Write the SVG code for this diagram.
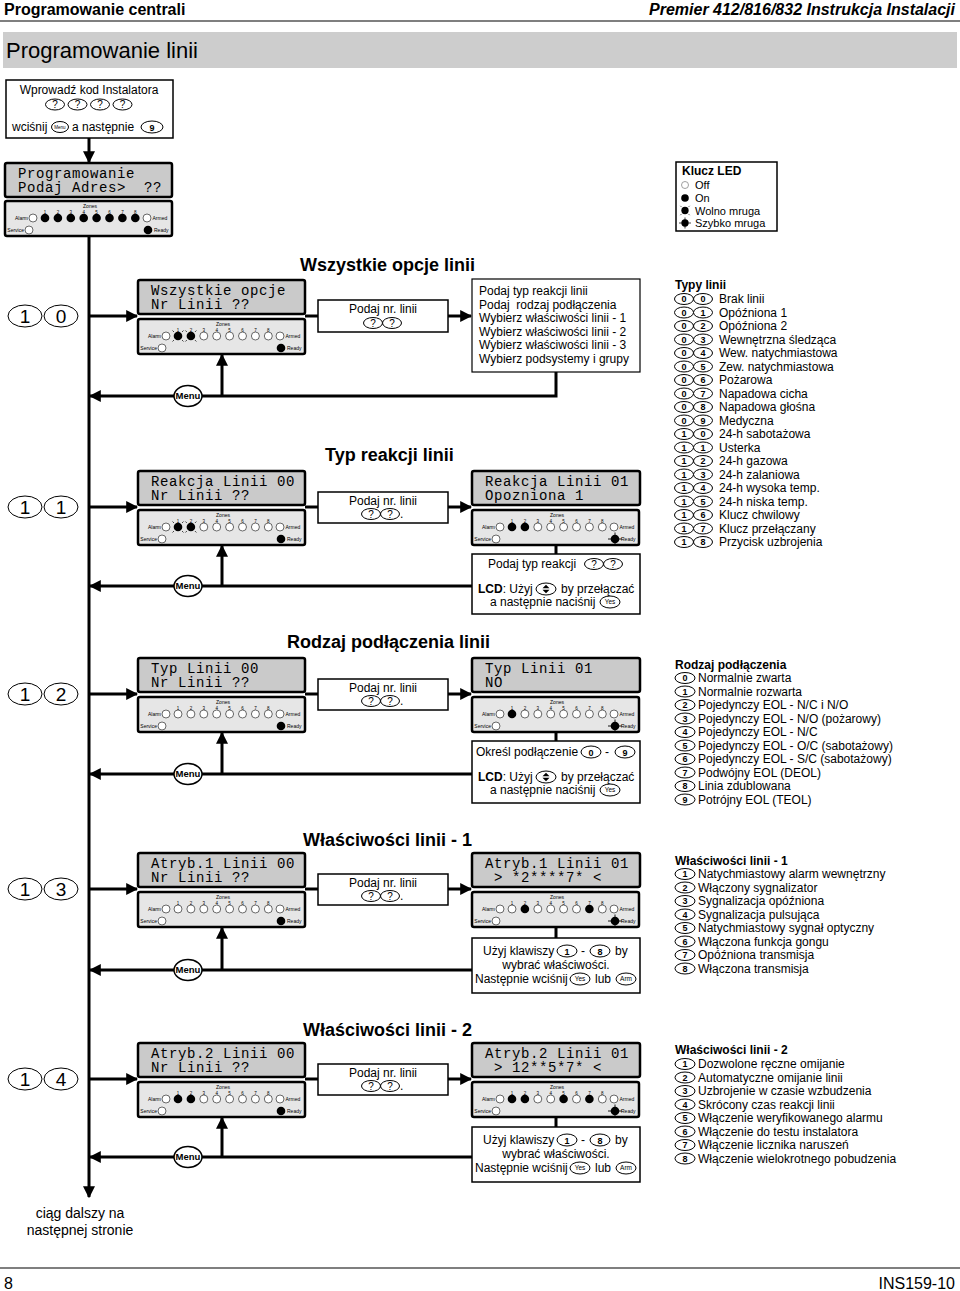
<svg xmlns="http://www.w3.org/2000/svg" xmlns:xlink="http://www.w3.org/1999/xlink" width="960" height="1291" viewBox="0 0 960 1291">
<style>
text{font-family:"Liberation Sans",Arial,sans-serif;fill:#000}
.t{font-size:12px}
.tb{font-size:12px;font-weight:bold}
.lg{font-size:11px}
.hb{font-size:16px;font-weight:bold}
.h2{font-size:18px;font-weight:bold}
.lcdr{fill:#cacaca;stroke:#000;stroke-width:2.5}
.lp{fill:#e6e6e6;stroke:#000;stroke-width:2.5}
.lt{font-family:"Liberation Mono","DejaVu Sans Mono",monospace;font-size:14px;letter-spacing:0.6px;white-space:pre}
.box{fill:#fff;stroke:#000;stroke-width:1.5}
.ke{fill:#fff;stroke:#000;stroke-width:1}
.kt{font-size:9px;font-weight:bold;text-anchor:middle}
.kq{font-size:10px;text-anchor:middle}
.ky{font-size:6.5px;text-anchor:middle}
.big{fill:#fff;stroke:#000;stroke-width:1.2}
.bt{font-size:19px;text-anchor:middle}
.mt{font-size:9.5px;font-weight:bold;text-anchor:middle}
.tiny{font-size:5px}
.num{font-size:4.5px;text-anchor:middle}
.ln{stroke:#000;stroke-width:3;fill:none}
.mid{text-anchor:middle}
</style>
<defs>
<marker id="ah" viewBox="0 0 10 10" refX="9" refY="5" markerWidth="12" markerHeight="12" markerUnits="userSpaceOnUse" orient="auto">
<path d="M0,0L10,5L0,10z" fill="#000"/>
</marker>
<circle id="off" r="4" fill="#fff" stroke="#444" stroke-width="0.8"/>
<circle id="on" r="4.3" fill="#000"/>
<g id="slow"><circle r="4.3" fill="#000"/><path d="M-5.5,-5.5l1.5,1.5M5.5,-5.5l-1.5,1.5M-5.5,5.5l1.5,-1.5M5.5,5.5l-1.5,-1.5" stroke="#000" stroke-width="0.7"/></g>
<g id="fast"><circle r="4.3" fill="#000"/><path d="M-7,0H7M0,-6.5V6.5" stroke="#000" stroke-width="0.9"/></g>
<g id="ledbase">
<rect class="lp" x="0" y="0" width="167" height="35" rx="2"/>
<text class="tiny mid" x="85" y="6.5">Zones</text>
<text class="num" x="40" y="12.8">1</text><text class="num" x="52.9" y="12.8">2</text><text class="num" x="65.8" y="12.8">3</text><text class="num" x="78.7" y="12.8">4</text><text class="num" x="91.6" y="12.8">5</text><text class="num" x="104.5" y="12.8">6</text><text class="num" x="117.4" y="12.8">7</text><text class="num" x="130.3" y="12.8">8</text>
<text class="tiny" x="23" y="19" text-anchor="end">Alarm</text>
<use href="#off" x="28" y="17"/>
<use href="#off" x="142" y="17"/>
<text class="tiny" x="147.5" y="19">Armed</text>
<text class="tiny" x="19" y="31" text-anchor="end">Service</text>
<use href="#off" x="24" y="29"/>
<text class="tiny" x="149" y="31">Ready</text>
</g>
<g id="menu"><ellipse rx="14" ry="10.5" fill="#fff" stroke="#000" stroke-width="1.5"/><text class="mt" y="3.3">Menu</text></g>
<g id="q"><ellipse class="ke" rx="9.5" ry="5.5"/><text class="kq" y="3.5">?</text></g>
<g id="yes"><ellipse class="ke" rx="10" ry="6"/><text class="ky" y="2.3">Yes</text></g>
<g id="arm"><ellipse class="ke" rx="10" ry="6"/><text class="ky" y="2.3">Arm</text></g>
<g id="updn"><ellipse class="ke" rx="10" ry="6"/><path d="M-3.5,-0.8L0,-4.3L3.5,-0.8zM-3.5,0.8L0,4.3L3.5,0.8z" fill="#000"/></g>
</defs>

<!-- header -->
<g id="header">
<text class="hb" x="4" y="15">Programowanie centrali</text>
<text class="hb" x="955" y="15" text-anchor="end" font-style="italic">Premier 412/816/832 Instrukcja Instalacji</text>
<line x1="0" y1="21" x2="960" y2="21" stroke="#000" stroke-width="1.2"/>
<rect x="3" y="32" width="954" height="36" fill="#cdcdcd"/>
<text x="6" y="58" font-size="22">Programowanie linii</text>
</g>

<!-- connectors -->
<g id="connectors">
<line class="ln" x1="89" y1="138" x2="89" y2="162" marker-end="url(#ah)"/>
<line class="ln" x1="89" y1="236" x2="89" y2="1197" marker-end="url(#ah)"/>
<line class="ln" x1="89" y1="316" x2="137" y2="316" marker-end="url(#ah)"/>
<line class="ln" x1="89" y1="507" x2="137" y2="507" marker-end="url(#ah)"/>
<line class="ln" x1="89" y1="694" x2="137" y2="694" marker-end="url(#ah)"/>
<line class="ln" x1="89" y1="889" x2="137" y2="889" marker-end="url(#ah)"/>
<line class="ln" x1="89" y1="1079" x2="137" y2="1079" marker-end="url(#ah)"/>
<line class="ln" x1="305" y1="316" x2="318" y2="316"/>
<line class="ln" x1="305" y1="507" x2="318" y2="507"/>
<line class="ln" x1="305" y1="694" x2="318" y2="694"/>
<line class="ln" x1="305" y1="889" x2="318" y2="889"/>
<line class="ln" x1="305" y1="1079" x2="318" y2="1079"/>
<line class="ln" x1="448" y1="316" x2="471" y2="316" marker-end="url(#ah)"/>
<line class="ln" x1="448" y1="507" x2="471" y2="507" marker-end="url(#ah)"/>
<line class="ln" x1="448" y1="694" x2="471" y2="694" marker-end="url(#ah)"/>
<line class="ln" x1="448" y1="889" x2="471" y2="889" marker-end="url(#ah)"/>
<line class="ln" x1="448" y1="1079" x2="471" y2="1079" marker-end="url(#ah)"/>
<line class="ln" x1="556" y1="545" x2="556" y2="554"/>
<line class="ln" x1="556" y1="732" x2="556" y2="741"/>
<line class="ln" x1="556" y1="927" x2="556" y2="938"/>
<line class="ln" x1="556" y1="1117" x2="556" y2="1127"/>
<polyline class="ln" points="556,372 556,396 90,396" marker-end="url(#ah)"/>
<line class="ln" x1="472" y1="586" x2="90" y2="586" marker-end="url(#ah)"/>
<line class="ln" x1="472" y1="774" x2="90" y2="774" marker-end="url(#ah)"/>
<line class="ln" x1="472" y1="970" x2="90" y2="970" marker-end="url(#ah)"/>
<line class="ln" x1="472" y1="1157" x2="90" y2="1157" marker-end="url(#ah)"/>
<line class="ln" x1="222" y1="396" x2="222" y2="355" marker-end="url(#ah)"/>
<line class="ln" x1="222" y1="586" x2="222" y2="546" marker-end="url(#ah)"/>
<line class="ln" x1="222" y1="774" x2="222" y2="733" marker-end="url(#ah)"/>
<line class="ln" x1="222" y1="970" x2="222" y2="928" marker-end="url(#ah)"/>
<line class="ln" x1="222" y1="1157" x2="222" y2="1118" marker-end="url(#ah)"/>
<use href="#menu" x="188" y="396"/>
<use href="#menu" x="188" y="586"/>
<use href="#menu" x="188" y="774"/>
<use href="#menu" x="188" y="970"/>
<use href="#menu" x="188" y="1157"/>
</g>

<!-- start box -->
<g id="start">
<rect class="box" x="6" y="80" width="167" height="58"/>
<text class="t mid" x="89" y="94">Wprowadź kod Instalatora</text>
<use href="#q" x="55" y="104.5"/><use href="#q" x="77.5" y="104.5"/><use href="#q" x="100" y="104.5"/><use href="#q" x="122.5" y="104.5"/>
<text class="t" x="12" y="131">wciśnij</text>
<ellipse class="ke" cx="60" cy="127" rx="8.5" ry="5.5"/><text x="60" y="129" font-size="4.5" text-anchor="middle">Menu</text>
<text class="t" x="72" y="131">a następnie</text>
<ellipse class="ke" cx="152" cy="127" rx="11" ry="6"/><text class="kt" x="152" y="130.5">9</text>
</g>

<!-- programming LCD -->
<g id="lcd0">
<rect class="lcdr" x="5" y="163" width="167" height="34" rx="2"/>
<text class="lt" x="18" y="177.5">Programowanie</text>
<text class="lt" x="18" y="192">Podaj Adres&gt;  ??</text>
<g transform="translate(5,201)"><use href="#ledbase"/>
<use href="#on" x="40" y="17"/><use href="#on" x="52.9" y="17"/><use href="#on" x="65.8" y="17"/><use href="#on" x="78.7" y="17"/><use href="#on" x="91.6" y="17"/><use href="#on" x="104.5" y="17"/><use href="#on" x="117.4" y="17"/><use href="#on" x="130.3" y="17"/><use href="#on" x="143" y="29"/></g>
</g>

<!-- Klucz LED -->
<g id="legend">
<rect class="box" x="676" y="162" width="101" height="69" stroke-width="1.2"/>
<text class="tb" x="682" y="174.5">Klucz LED</text>
<circle cx="685" cy="185" r="3.5" fill="#fff" stroke="#888" stroke-width="0.8"/><text class="lg" x="695" y="189">Off</text>
<circle cx="685" cy="198" r="3.8" fill="#000"/><text class="lg" x="695" y="202">On</text>
<use href="#slow" transform="translate(685,210.5) scale(0.85)"/><text class="lg" x="695" y="214.5">Wolno mruga</text>
<use href="#fast" transform="translate(685,223) scale(0.85)"/><text class="lg" x="695" y="227">Szybko mruga</text>
</g>

<!-- row titles -->
<g id="titles">
<text class="h2" x="300" y="271">Wszystkie opcje linii</text>
<text class="h2" x="325" y="461">Typ reakcji linii</text>
<text class="h2" x="287" y="648">Rodzaj podłączenia linii</text>
<text class="h2" x="303" y="846">Właściwości linii - 1</text>
<text class="h2" x="303" y="1036">Właściwości linii - 2</text>
</g>

<!-- row labels -->
<g id="labels">
<g transform="translate(0,316)"><ellipse class="ke" cx="25" cy="0" rx="17" ry="11" stroke-width="1.3"/><text class="bt" x="25" y="7">1</text><ellipse class="ke" cx="61" cy="0" rx="17" ry="11" stroke-width="1.3"/><text class="bt" x="61" y="7">0</text></g>
<g transform="translate(0,507)"><ellipse class="ke" cx="25" cy="0" rx="17" ry="11" stroke-width="1.3"/><text class="bt" x="25" y="7">1</text><ellipse class="ke" cx="61" cy="0" rx="17" ry="11" stroke-width="1.3"/><text class="bt" x="61" y="7">1</text></g>
<g transform="translate(0,694)"><ellipse class="ke" cx="25" cy="0" rx="17" ry="11" stroke-width="1.3"/><text class="bt" x="25" y="7">1</text><ellipse class="ke" cx="61" cy="0" rx="17" ry="11" stroke-width="1.3"/><text class="bt" x="61" y="7">2</text></g>
<g transform="translate(0,889)"><ellipse class="ke" cx="25" cy="0" rx="17" ry="11" stroke-width="1.3"/><text class="bt" x="25" y="7">1</text><ellipse class="ke" cx="61" cy="0" rx="17" ry="11" stroke-width="1.3"/><text class="bt" x="61" y="7">3</text></g>
<g transform="translate(0,1079)"><ellipse class="ke" cx="25" cy="0" rx="17" ry="11" stroke-width="1.3"/><text class="bt" x="25" y="7">1</text><ellipse class="ke" cx="61" cy="0" rx="17" ry="11" stroke-width="1.3"/><text class="bt" x="61" y="7">4</text></g>
</g>

<!-- Row 10 -->
<g id="row10">
<rect class="lcdr" x="138" y="280" width="167" height="34" rx="2"/>
<text class="lt" x="151" y="294.5">Wszystkie opcje</text>
<text class="lt" x="151" y="309">Nr Linii ??</text>
<g transform="translate(138,319)"><use href="#ledbase"/>
<use href="#slow" x="40" y="17"/><use href="#slow" x="52.9" y="17"/><use href="#off" x="65.8" y="17"/><use href="#off" x="78.7" y="17"/><use href="#off" x="91.6" y="17"/><use href="#off" x="104.5" y="17"/><use href="#off" x="117.4" y="17"/><use href="#off" x="130.3" y="17"/><use href="#on" x="143" y="29"/></g>
<rect class="box" x="318" y="300" width="130" height="32"/>
<text class="t mid" x="383" y="313">Podaj nr. linii</text>
<use href="#q" x="373" y="323"/><use href="#q" x="392" y="323"/>
<rect class="big" x="472" y="279" width="168" height="93"/>
<text class="t" x="479" y="295">Podaj typ reakcji linii</text>
<text class="t" x="479" y="308.5" style="white-space:pre">Podaj  rodzaj podłączenia</text>
<text class="t" x="479" y="322">Wybierz właściwości linii - 1</text>
<text class="t" x="479" y="335.5">Wybierz właściwości linii - 2</text>
<text class="t" x="479" y="349">Wybierz właściwości linii - 3</text>
<text class="t" x="479" y="362.5">Wybierz podsystemy i grupy</text>
</g>

<!-- Row 11 -->
<g id="row11">
<rect class="lcdr" x="138" y="471" width="167" height="34" rx="2"/>
<text class="lt" x="151" y="485.5">Reakcja Linii 00</text>
<text class="lt" x="151" y="500">Nr Linii ??</text>
<g transform="translate(138,510)"><use href="#ledbase"/>
<use href="#slow" x="40" y="17"/><use href="#slow" x="52.9" y="17"/><use href="#off" x="65.8" y="17"/><use href="#off" x="78.7" y="17"/><use href="#off" x="91.6" y="17"/><use href="#off" x="104.5" y="17"/><use href="#off" x="117.4" y="17"/><use href="#off" x="130.3" y="17"/><use href="#on" x="143" y="29"/></g>
<rect class="box" x="318" y="492" width="130" height="31"/>
<text class="t mid" x="383" y="505">Podaj nr. linii</text>
<use href="#q" x="371" y="514"/><use href="#q" x="390" y="514"/><text class="t" x="400" y="518">.</text>
<rect class="lcdr" x="472" y="471" width="168" height="34" rx="2"/>
<text class="lt" x="485" y="485.5">Reakcja Linii 01</text>
<text class="lt" x="485" y="500">Opozniona 1</text>
<g transform="translate(472,510)"><use href="#ledbase"/>
<use href="#on" x="40" y="17"/><use href="#on" x="52.9" y="17"/><use href="#off" x="65.8" y="17"/><use href="#off" x="78.7" y="17"/><use href="#off" x="91.6" y="17"/><use href="#off" x="104.5" y="17"/><use href="#off" x="117.4" y="17"/><use href="#off" x="130.3" y="17"/><use href="#fast" x="143" y="29"/></g>
<rect class="box" x="472" y="554" width="168" height="60"/>
<text class="t" x="488" y="568">Podaj typ reakcji</text>
<use href="#q" x="594" y="564"/><use href="#q" x="613" y="564"/>
<text class="t" x="478" y="593"><tspan font-weight="bold">LCD</tspan>: Użyj</text>
<use href="#updn" x="546" y="589"/>
<text class="t" x="561" y="593">by przełączać</text>
<text class="t" x="490" y="606">a następnie naciśnij</text>
<use href="#yes" x="610" y="602"/>
</g>

<!-- Row 12 -->
<g id="row12">
<rect class="lcdr" x="138" y="658" width="167" height="34" rx="2"/>
<text class="lt" x="151" y="672.5">Typ Linii 00</text>
<text class="lt" x="151" y="687">Nr Linii ??</text>
<g transform="translate(138,697)"><use href="#ledbase"/>
<use href="#off" x="40" y="17"/><use href="#off" x="52.9" y="17"/><use href="#off" x="65.8" y="17"/><use href="#off" x="78.7" y="17"/><use href="#off" x="91.6" y="17"/><use href="#off" x="104.5" y="17"/><use href="#off" x="117.4" y="17"/><use href="#off" x="130.3" y="17"/><use href="#on" x="143" y="29"/></g>
<rect class="box" x="318" y="679" width="130" height="31"/>
<text class="t mid" x="383" y="692">Podaj nr. linii</text>
<use href="#q" x="371" y="701"/><use href="#q" x="390" y="701"/><text class="t" x="400" y="705">.</text>
<rect class="lcdr" x="472" y="658" width="168" height="34" rx="2"/>
<text class="lt" x="485" y="672.5">Typ Linii 01</text>
<text class="lt" x="485" y="687">NO</text>
<g transform="translate(472,697)"><use href="#ledbase"/>
<use href="#on" x="40" y="17"/><use href="#off" x="52.9" y="17"/><use href="#off" x="65.8" y="17"/><use href="#off" x="78.7" y="17"/><use href="#off" x="91.6" y="17"/><use href="#off" x="104.5" y="17"/><use href="#off" x="117.4" y="17"/><use href="#off" x="130.3" y="17"/><use href="#fast" x="143" y="29"/></g>
<rect class="box" x="472" y="741" width="168" height="62"/>
<text class="t" x="476" y="756">Określ podłączenie</text>
<ellipse class="ke" cx="591" cy="752" rx="10" ry="6"/><text class="kt" x="591" y="755.5">0</text>
<text class="t" x="605" y="756">-</text>
<ellipse class="ke" cx="625" cy="752" rx="10" ry="6"/><text class="kt" x="625" y="755.5">9</text>
<text class="t" x="478" y="781"><tspan font-weight="bold">LCD</tspan>: Użyj</text>
<use href="#updn" x="546" y="777"/>
<text class="t" x="561" y="781">by przełączać</text>
<text class="t" x="490" y="794">a następnie naciśnij</text>
<use href="#yes" x="610" y="790"/>
</g>

<!-- Row 13 -->
<g id="row13">
<rect class="lcdr" x="138" y="853" width="167" height="34" rx="2"/>
<text class="lt" x="151" y="867.5">Atryb.1 Linii 00</text>
<text class="lt" x="151" y="882">Nr Linii ??</text>
<g transform="translate(138,892)"><use href="#ledbase"/>
<use href="#off" x="40" y="17"/><use href="#off" x="52.9" y="17"/><use href="#off" x="65.8" y="17"/><use href="#off" x="78.7" y="17"/><use href="#off" x="91.6" y="17"/><use href="#off" x="104.5" y="17"/><use href="#off" x="117.4" y="17"/><use href="#off" x="130.3" y="17"/><use href="#on" x="143" y="29"/></g>
<rect class="box" x="318" y="874" width="130" height="31"/>
<text class="t mid" x="383" y="887">Podaj nr. linii</text>
<use href="#q" x="371" y="896"/><use href="#q" x="390" y="896"/><text class="t" x="400" y="900">.</text>
<rect class="lcdr" x="472" y="853" width="168" height="34" rx="2"/>
<text class="lt" x="485" y="867.5">Atryb.1 Linii 01</text>
<text class="lt" x="485" y="882"> &gt; *2****7* &lt;</text>
<g transform="translate(472,892)"><use href="#ledbase"/>
<use href="#off" x="40" y="17"/><use href="#on" x="52.9" y="17"/><use href="#off" x="65.8" y="17"/><use href="#off" x="78.7" y="17"/><use href="#off" x="91.6" y="17"/><use href="#off" x="104.5" y="17"/><use href="#on" x="117.4" y="17"/><use href="#off" x="130.3" y="17"/><use href="#fast" x="143" y="29"/></g>
<rect class="box" x="472" y="938" width="168" height="55"/>
<text class="t" x="483" y="955">Użyj klawiszy</text>
<ellipse class="ke" cx="567" cy="951" rx="10" ry="6"/><text class="kt" x="567" y="954.5">1</text>
<text class="t" x="581" y="955">-</text>
<ellipse class="ke" cx="600" cy="951" rx="10" ry="6"/><text class="kt" x="600" y="954.5">8</text>
<text class="t" x="615" y="955">by</text>
<text class="t mid" x="556" y="969">wybrać właściwości.</text>
<text class="t" x="475" y="983">Następnie wciśnij</text>
<use href="#yes" x="580" y="979"/>
<text class="t" x="595" y="983">lub</text>
<use href="#arm" x="626" y="979"/>
</g>

<!-- Row 14 -->
<g id="row14">
<rect class="lcdr" x="138" y="1043" width="167" height="34" rx="2"/>
<text class="lt" x="151" y="1057.5">Atryb.2 Linii 00</text>
<text class="lt" x="151" y="1072">Nr Linii ??</text>
<g transform="translate(138,1082)"><use href="#ledbase"/>
<use href="#on" x="40" y="17"/><use href="#on" x="52.9" y="17"/><use href="#off" x="65.8" y="17"/><use href="#off" x="78.7" y="17"/><use href="#off" x="91.6" y="17"/><use href="#off" x="104.5" y="17"/><use href="#off" x="117.4" y="17"/><use href="#off" x="130.3" y="17"/><use href="#on" x="143" y="29"/></g>
<rect class="box" x="318" y="1064" width="130" height="31"/>
<text class="t mid" x="383" y="1077">Podaj nr. linii</text>
<use href="#q" x="371" y="1086"/><use href="#q" x="390" y="1086"/><text class="t" x="400" y="1090">.</text>
<rect class="lcdr" x="472" y="1043" width="168" height="34" rx="2"/>
<text class="lt" x="485" y="1057.5">Atryb.2 Linii 01</text>
<text class="lt" x="485" y="1072"> &gt; 12**5*7* &lt;</text>
<g transform="translate(472,1082)"><use href="#ledbase"/>
<use href="#on" x="40" y="17"/><use href="#on" x="52.9" y="17"/><use href="#off" x="65.8" y="17"/><use href="#off" x="78.7" y="17"/><use href="#on" x="91.6" y="17"/><use href="#off" x="104.5" y="17"/><use href="#on" x="117.4" y="17"/><use href="#off" x="130.3" y="17"/><use href="#fast" x="143" y="29"/></g>
<rect class="box" x="472" y="1127" width="168" height="55"/>
<text class="t" x="483" y="1144">Użyj klawiszy</text>
<ellipse class="ke" cx="567" cy="1140" rx="10" ry="6"/><text class="kt" x="567" y="1143.5">1</text>
<text class="t" x="581" y="1144">-</text>
<ellipse class="ke" cx="600" cy="1140" rx="10" ry="6"/><text class="kt" x="600" y="1143.5">8</text>
<text class="t" x="615" y="1144">by</text>
<text class="t mid" x="556" y="1158">wybrać właściwości.</text>
<text class="t" x="475" y="1172">Następnie wciśnij</text>
<use href="#yes" x="580" y="1168"/>
<text class="t" x="595" y="1172">lub</text>
<use href="#arm" x="626" y="1168"/>
</g>

<!-- Typy linii -->
<g id="typy">
<text class="tb" x="675" y="289">Typy linii</text>
<g transform="translate(0,303)"><ellipse class="ke" cx="684" cy="-4" rx="9.5" ry="5.5"/><text class="kt" x="684" y="-0.8">0</text><ellipse class="ke" cx="703" cy="-4" rx="9.5" ry="5.5"/><text class="kt" x="703" y="-0.8">0</text><text class="t" x="719" y="0">Brak linii</text></g>
<g transform="translate(0,316.5)"><ellipse class="ke" cx="684" cy="-4" rx="9.5" ry="5.5"/><text class="kt" x="684" y="-0.8">0</text><ellipse class="ke" cx="703" cy="-4" rx="9.5" ry="5.5"/><text class="kt" x="703" y="-0.8">1</text><text class="t" x="719" y="0">Opóźniona 1</text></g>
<g transform="translate(0,330)"><ellipse class="ke" cx="684" cy="-4" rx="9.5" ry="5.5"/><text class="kt" x="684" y="-0.8">0</text><ellipse class="ke" cx="703" cy="-4" rx="9.5" ry="5.5"/><text class="kt" x="703" y="-0.8">2</text><text class="t" x="719" y="0">Opóźniona 2</text></g>
<g transform="translate(0,343.5)"><ellipse class="ke" cx="684" cy="-4" rx="9.5" ry="5.5"/><text class="kt" x="684" y="-0.8">0</text><ellipse class="ke" cx="703" cy="-4" rx="9.5" ry="5.5"/><text class="kt" x="703" y="-0.8">3</text><text class="t" x="719" y="0">Wewnętrzna śledząca</text></g>
<g transform="translate(0,357)"><ellipse class="ke" cx="684" cy="-4" rx="9.5" ry="5.5"/><text class="kt" x="684" y="-0.8">0</text><ellipse class="ke" cx="703" cy="-4" rx="9.5" ry="5.5"/><text class="kt" x="703" y="-0.8">4</text><text class="t" x="719" y="0">Wew. natychmiastowa</text></g>
<g transform="translate(0,370.5)"><ellipse class="ke" cx="684" cy="-4" rx="9.5" ry="5.5"/><text class="kt" x="684" y="-0.8">0</text><ellipse class="ke" cx="703" cy="-4" rx="9.5" ry="5.5"/><text class="kt" x="703" y="-0.8">5</text><text class="t" x="719" y="0">Zew. natychmiastowa</text></g>
<g transform="translate(0,384)"><ellipse class="ke" cx="684" cy="-4" rx="9.5" ry="5.5"/><text class="kt" x="684" y="-0.8">0</text><ellipse class="ke" cx="703" cy="-4" rx="9.5" ry="5.5"/><text class="kt" x="703" y="-0.8">6</text><text class="t" x="719" y="0">Pożarowa</text></g>
<g transform="translate(0,397.5)"><ellipse class="ke" cx="684" cy="-4" rx="9.5" ry="5.5"/><text class="kt" x="684" y="-0.8">0</text><ellipse class="ke" cx="703" cy="-4" rx="9.5" ry="5.5"/><text class="kt" x="703" y="-0.8">7</text><text class="t" x="719" y="0">Napadowa cicha</text></g>
<g transform="translate(0,411)"><ellipse class="ke" cx="684" cy="-4" rx="9.5" ry="5.5"/><text class="kt" x="684" y="-0.8">0</text><ellipse class="ke" cx="703" cy="-4" rx="9.5" ry="5.5"/><text class="kt" x="703" y="-0.8">8</text><text class="t" x="719" y="0">Napadowa głośna</text></g>
<g transform="translate(0,424.5)"><ellipse class="ke" cx="684" cy="-4" rx="9.5" ry="5.5"/><text class="kt" x="684" y="-0.8">0</text><ellipse class="ke" cx="703" cy="-4" rx="9.5" ry="5.5"/><text class="kt" x="703" y="-0.8">9</text><text class="t" x="719" y="0">Medyczna</text></g>
<g transform="translate(0,438)"><ellipse class="ke" cx="684" cy="-4" rx="9.5" ry="5.5"/><text class="kt" x="684" y="-0.8">1</text><ellipse class="ke" cx="703" cy="-4" rx="9.5" ry="5.5"/><text class="kt" x="703" y="-0.8">0</text><text class="t" x="719" y="0">24-h sabotażowa</text></g>
<g transform="translate(0,451.5)"><ellipse class="ke" cx="684" cy="-4" rx="9.5" ry="5.5"/><text class="kt" x="684" y="-0.8">1</text><ellipse class="ke" cx="703" cy="-4" rx="9.5" ry="5.5"/><text class="kt" x="703" y="-0.8">1</text><text class="t" x="719" y="0">Usterka</text></g>
<g transform="translate(0,465)"><ellipse class="ke" cx="684" cy="-4" rx="9.5" ry="5.5"/><text class="kt" x="684" y="-0.8">1</text><ellipse class="ke" cx="703" cy="-4" rx="9.5" ry="5.5"/><text class="kt" x="703" y="-0.8">2</text><text class="t" x="719" y="0">24-h gazowa</text></g>
<g transform="translate(0,478.5)"><ellipse class="ke" cx="684" cy="-4" rx="9.5" ry="5.5"/><text class="kt" x="684" y="-0.8">1</text><ellipse class="ke" cx="703" cy="-4" rx="9.5" ry="5.5"/><text class="kt" x="703" y="-0.8">3</text><text class="t" x="719" y="0">24-h zalaniowa</text></g>
<g transform="translate(0,492)"><ellipse class="ke" cx="684" cy="-4" rx="9.5" ry="5.5"/><text class="kt" x="684" y="-0.8">1</text><ellipse class="ke" cx="703" cy="-4" rx="9.5" ry="5.5"/><text class="kt" x="703" y="-0.8">4</text><text class="t" x="719" y="0">24-h wysoka temp.</text></g>
<g transform="translate(0,505.5)"><ellipse class="ke" cx="684" cy="-4" rx="9.5" ry="5.5"/><text class="kt" x="684" y="-0.8">1</text><ellipse class="ke" cx="703" cy="-4" rx="9.5" ry="5.5"/><text class="kt" x="703" y="-0.8">5</text><text class="t" x="719" y="0">24-h niska temp.</text></g>
<g transform="translate(0,519)"><ellipse class="ke" cx="684" cy="-4" rx="9.5" ry="5.5"/><text class="kt" x="684" y="-0.8">1</text><ellipse class="ke" cx="703" cy="-4" rx="9.5" ry="5.5"/><text class="kt" x="703" y="-0.8">6</text><text class="t" x="719" y="0">Klucz chwilowy</text></g>
<g transform="translate(0,532.5)"><ellipse class="ke" cx="684" cy="-4" rx="9.5" ry="5.5"/><text class="kt" x="684" y="-0.8">1</text><ellipse class="ke" cx="703" cy="-4" rx="9.5" ry="5.5"/><text class="kt" x="703" y="-0.8">7</text><text class="t" x="719" y="0">Klucz przełączany</text></g>
<g transform="translate(0,546)"><ellipse class="ke" cx="684" cy="-4" rx="9.5" ry="5.5"/><text class="kt" x="684" y="-0.8">1</text><ellipse class="ke" cx="703" cy="-4" rx="9.5" ry="5.5"/><text class="kt" x="703" y="-0.8">8</text><text class="t" x="719" y="0">Przycisk uzbrojenia</text></g>
</g>

<!-- Rodzaj podłączenia -->
<g id="rodzaj">
<text class="tb" x="675" y="669">Rodzaj podłączenia</text>
<g transform="translate(0,682)"><ellipse class="ke" cx="685" cy="-4" rx="10" ry="5.5"/><text class="kt" x="685" y="-0.8">0</text><text class="t" x="698" y="0">Normalnie zwarta</text></g>
<g transform="translate(0,695.5)"><ellipse class="ke" cx="685" cy="-4" rx="10" ry="5.5"/><text class="kt" x="685" y="-0.8">1</text><text class="t" x="698" y="0">Normalnie rozwarta</text></g>
<g transform="translate(0,709)"><ellipse class="ke" cx="685" cy="-4" rx="10" ry="5.5"/><text class="kt" x="685" y="-0.8">2</text><text class="t" x="698" y="0">Pojedynczy EOL - N/C i N/O</text></g>
<g transform="translate(0,722.5)"><ellipse class="ke" cx="685" cy="-4" rx="10" ry="5.5"/><text class="kt" x="685" y="-0.8">3</text><text class="t" x="698" y="0">Pojedynczy EOL - N/O (pożarowy)</text></g>
<g transform="translate(0,736)"><ellipse class="ke" cx="685" cy="-4" rx="10" ry="5.5"/><text class="kt" x="685" y="-0.8">4</text><text class="t" x="698" y="0">Pojedynczy EOL - N/C</text></g>
<g transform="translate(0,749.5)"><ellipse class="ke" cx="685" cy="-4" rx="10" ry="5.5"/><text class="kt" x="685" y="-0.8">5</text><text class="t" x="698" y="0">Pojedynczy EOL - O/C (sabotażowy)</text></g>
<g transform="translate(0,763)"><ellipse class="ke" cx="685" cy="-4" rx="10" ry="5.5"/><text class="kt" x="685" y="-0.8">6</text><text class="t" x="698" y="0">Pojedynczy EOL - S/C (sabotażowy)</text></g>
<g transform="translate(0,776.5)"><ellipse class="ke" cx="685" cy="-4" rx="10" ry="5.5"/><text class="kt" x="685" y="-0.8">7</text><text class="t" x="698" y="0">Podwójny EOL (DEOL)</text></g>
<g transform="translate(0,790)"><ellipse class="ke" cx="685" cy="-4" rx="10" ry="5.5"/><text class="kt" x="685" y="-0.8">8</text><text class="t" x="698" y="0">Linia zdublowana</text></g>
<g transform="translate(0,803.5)"><ellipse class="ke" cx="685" cy="-4" rx="10" ry="5.5"/><text class="kt" x="685" y="-0.8">9</text><text class="t" x="698" y="0">Potrójny EOL (TEOL)</text></g>
</g>

<!-- Właściwości 1 -->
<g id="wlasc1">
<text class="tb" x="675" y="865">Właściwości linii - 1</text>
<g transform="translate(0,878)"><ellipse class="ke" cx="685" cy="-4" rx="10" ry="5.5"/><text class="kt" x="685" y="-0.8">1</text><text class="t" x="698" y="0">Natychmiastowy alarm wewnętrzny</text></g>
<g transform="translate(0,891.5)"><ellipse class="ke" cx="685" cy="-4" rx="10" ry="5.5"/><text class="kt" x="685" y="-0.8">2</text><text class="t" x="698" y="0">Włączony sygnalizator</text></g>
<g transform="translate(0,905)"><ellipse class="ke" cx="685" cy="-4" rx="10" ry="5.5"/><text class="kt" x="685" y="-0.8">3</text><text class="t" x="698" y="0">Sygnalizacja opóźniona</text></g>
<g transform="translate(0,918.5)"><ellipse class="ke" cx="685" cy="-4" rx="10" ry="5.5"/><text class="kt" x="685" y="-0.8">4</text><text class="t" x="698" y="0">Sygnalizacja pulsująca</text></g>
<g transform="translate(0,932)"><ellipse class="ke" cx="685" cy="-4" rx="10" ry="5.5"/><text class="kt" x="685" y="-0.8">5</text><text class="t" x="698" y="0">Natychmiastowy sygnał optyczny</text></g>
<g transform="translate(0,945.5)"><ellipse class="ke" cx="685" cy="-4" rx="10" ry="5.5"/><text class="kt" x="685" y="-0.8">6</text><text class="t" x="698" y="0">Włączona funkcja gongu</text></g>
<g transform="translate(0,959)"><ellipse class="ke" cx="685" cy="-4" rx="10" ry="5.5"/><text class="kt" x="685" y="-0.8">7</text><text class="t" x="698" y="0">Opóźniona transmisja</text></g>
<g transform="translate(0,972.5)"><ellipse class="ke" cx="685" cy="-4" rx="10" ry="5.5"/><text class="kt" x="685" y="-0.8">8</text><text class="t" x="698" y="0">Włączona transmisja</text></g>
</g>

<!-- Właściwości 2 -->
<g id="wlasc2">
<text class="tb" x="675" y="1054">Właściwości linii - 2</text>
<g transform="translate(0,1068)"><ellipse class="ke" cx="685" cy="-4" rx="10" ry="5.5"/><text class="kt" x="685" y="-0.8">1</text><text class="t" x="698" y="0">Dozwolone ręczne omijanie</text></g>
<g transform="translate(0,1081.5)"><ellipse class="ke" cx="685" cy="-4" rx="10" ry="5.5"/><text class="kt" x="685" y="-0.8">2</text><text class="t" x="698" y="0">Automatyczne omijanie linii</text></g>
<g transform="translate(0,1095)"><ellipse class="ke" cx="685" cy="-4" rx="10" ry="5.5"/><text class="kt" x="685" y="-0.8">3</text><text class="t" x="698" y="0">Uzbrojenie w czasie wzbudzenia</text></g>
<g transform="translate(0,1108.5)"><ellipse class="ke" cx="685" cy="-4" rx="10" ry="5.5"/><text class="kt" x="685" y="-0.8">4</text><text class="t" x="698" y="0">Skrócony czas reakcji linii</text></g>
<g transform="translate(0,1122)"><ellipse class="ke" cx="685" cy="-4" rx="10" ry="5.5"/><text class="kt" x="685" y="-0.8">5</text><text class="t" x="698" y="0">Włączenie weryfikowanego alarmu</text></g>
<g transform="translate(0,1135.5)"><ellipse class="ke" cx="685" cy="-4" rx="10" ry="5.5"/><text class="kt" x="685" y="-0.8">6</text><text class="t" x="698" y="0">Włączenie do testu instalatora</text></g>
<g transform="translate(0,1149)"><ellipse class="ke" cx="685" cy="-4" rx="10" ry="5.5"/><text class="kt" x="685" y="-0.8">7</text><text class="t" x="698" y="0">Włączenie licznika naruszeń</text></g>
<g transform="translate(0,1162.5)"><ellipse class="ke" cx="685" cy="-4" rx="10" ry="5.5"/><text class="kt" x="685" y="-0.8">8</text><text class="t" x="698" y="0">Włączenie wielokrotnego pobudzenia</text></g>
</g>

<!-- continuation and footer -->
<g id="footer">
<text class="mid" x="80" y="1218" font-size="14">ciąg dalszy na</text>
<text class="mid" x="80" y="1235" font-size="14">następnej stronie</text>
<line x1="0" y1="1268" x2="960" y2="1268" stroke="#000" stroke-width="1.2"/>
<text x="4" y="1289" font-size="16">8</text>
<text x="955" y="1289" font-size="16" text-anchor="end">INS159-10</text>
</g>
</svg>
